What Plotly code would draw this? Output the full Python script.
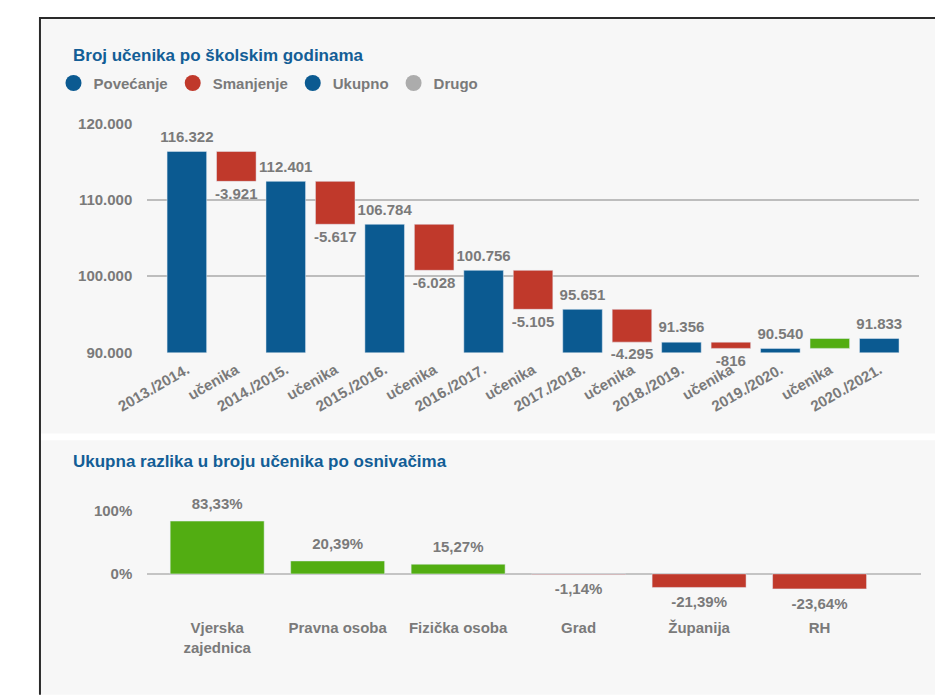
import plotly.graph_objects as go

# ---------------- data ----------------
years = ["2013./2014.", "2014./2015.", "2015./2016.", "2016./2017.",
         "2017./2018.", "2018./2019.", "2019./2020.", "2020./2021."]
totals = [116322, 112401, 106784, 100756, 95651, 91356, 90540, 91833]
changes = [-3921, -5617, -6028, -5105, -4295, -816, 1293]
change_label = "učenika"

y_ticks = [90000, 100000, 110000, 120000]
y_ticktext = ["90.000", "100.000", "110.000", "120.000"]

legend_names = ["Povećanje", "Smanjenje", "Ukupno", "Drugo"]

founders = ["Vjerska<br>zajednica", "Pravna osoba", "Fizička osoba", "Grad", "Županija", "RH"]
founder_pct = [83.33, 20.39, 15.27, -1.14, -21.39, -23.64]
pct_ticks = [0, 100]
pct_ticktext = ["0%", "100%"]

title_top = "Broj učenika po školskim godinama"
title_bottom = "Ukupna razlika u broju učenika po osnivačima"

# ---------------- styles ----------------
BLUE = "#0b5a91"
RED = "#c0392b"
GREEN = "#52ad12"
GREY_DOT = "#acacac"
TXT = "#7a7a7a"
TITLE = "#135e96"
FONT = "Liberation Sans, Arial, sans-serif"
OFF = 8                 # page body margin
W, H = 935, 688         # visible figure area


def fmt_int(v):
    return f"{v:,}".replace(",", ".")


def fmt_pct(v):
    return f"{v:.2f}".replace(".", ",") + "%"


def px_x(p):
    return (p - OFF) / W


def px_y(p):
    return 1 - (p - OFF) / H


x_tot = [2 * i for i in range(len(totals))]
x_chg = [2 * i + 1 for i in range(len(changes))]
tick_pos = list(range(2 * len(totals) - 1))
tick_txt = []
for i, yv in enumerate(years):
    tick_txt.append(yv)
    if i < len(changes):
        tick_txt.append(change_label)

bases = totals[:-1]
chg_colors = [RED if c < 0 else GREEN for c in changes]

lblfont = dict(family=FONT, size=15, color=TXT, weight="bold")

fig = go.Figure()

fig.add_trace(go.Bar(x=x_tot, y=totals, marker_color=BLUE, width=0.8,
                     showlegend=False, hoverinfo="skip", xaxis="x", yaxis="y"))
fig.add_trace(go.Bar(x=x_chg, y=changes, base=bases, marker_color=chg_colors, width=0.8,
                     showlegend=False, hoverinfo="skip", xaxis="x", yaxis="y"))
fig.add_trace(go.Scatter(x=x_tot, y=totals, mode="markers+text",
                         text=[fmt_int(v) for v in totals], textposition="top center",
                         marker=dict(size=8, color="rgba(0,0,0,0)"),
                         textfont=lblfont,
                         showlegend=False, hoverinfo="skip", cliponaxis=False,
                         xaxis="x", yaxis="y"))
ends = [b + c for b, c in zip(bases, changes)]
fig.add_trace(go.Scatter(x=x_chg, y=ends, mode="markers+text",
                         text=[fmt_int(c) if c < 0 else "" for c in changes],
                         textposition="bottom center",
                         marker=dict(size=8, color="rgba(0,0,0,0)"),
                         textfont=lblfont,
                         showlegend=False, hoverinfo="skip", cliponaxis=False,
                         xaxis="x", yaxis="y"))

for name, col in zip(legend_names, [BLUE, RED, BLUE, GREY_DOT]):
    fig.add_trace(go.Scatter(x=[None], y=[None], mode="markers", name=name,
                             marker=dict(symbol="circle", size=16, color=col),
                             xaxis="x", yaxis="y"))

fx = list(range(len(founders)))
fig.add_trace(go.Bar(x=fx, y=founder_pct, width=0.78,
                     marker_color=[GREEN if v >= 0 else RED for v in founder_pct],
                     showlegend=False, hoverinfo="skip", xaxis="x2", yaxis="y2"))
fig.add_trace(go.Scatter(x=fx, y=founder_pct,
                         mode="markers+text",
                         text=[fmt_pct(v) for v in founder_pct],
                         textposition=["top center" if v >= 0 else "bottom center" for v in founder_pct],
                         marker=dict(size=12, color="rgba(0,0,0,0)"),
                         textfont=lblfont,
                         showlegend=False, hoverinfo="skip", cliponaxis=False,
                         xaxis="x2", yaxis="y2"))

shapes = [
    dict(type="rect", xref="paper", yref="paper", x0=px_x(10), x1=1.01, y0=px_y(435), y1=px_y(10),
         fillcolor="#f7f7f7", line_width=0, layer="below"),
    dict(type="rect", xref="paper", yref="paper", x0=px_x(10), x1=1.01, y0=-0.01, y1=px_y(442),
         fillcolor="#f7f7f7", line_width=0, layer="below"),
    dict(type="line", xref="paper", yref="paper", x0=0, x1=1.01, y0=px_y(9), y1=px_y(9),
         line=dict(color="#2a2a2a", width=2), layer="below"),
    dict(type="line", xref="paper", yref="paper", x0=px_x(9), x1=px_x(9), y0=-0.01, y1=1,
         line=dict(color="#2a2a2a", width=2), layer="below"),
]

annotations = [
    dict(text=title_top, xref="paper", yref="paper", x=px_x(41), y=px_y(47),
         xanchor="left", yanchor="middle", showarrow=False,
         font=dict(family=FONT, size=17, color=TITLE, weight="bold")),
    dict(text=title_bottom, xref="paper", yref="paper", x=px_x(41), y=px_y(464),
         xanchor="left", yanchor="middle", showarrow=False,
         font=dict(family=FONT, size=17, color=TITLE, weight="bold")),
]

fig.update_layout(
    width=W, height=H, autosize=False,
    margin=dict(l=0, r=0, t=0, b=0),
    paper_bgcolor="white", plot_bgcolor="rgba(0,0,0,0)",
    barmode="overlay", bargap=0.2,
    shapes=shapes, annotations=annotations,
    showlegend=True,
    legend=dict(orientation="h", x=px_x(23), y=px_y(59), xanchor="left", yanchor="top",
                bgcolor="rgba(0,0,0,0)", font=lblfont),
    xaxis=dict(domain=[px_x(120), px_x(918)], range=[-0.8, 14.8], anchor="y",
               tickmode="array", tickvals=tick_pos, ticktext=tick_txt, tickangle=-30,
               showgrid=False, zeroline=False, showline=False, tickfont=lblfont,
               ticklabelstandoff=5, fixedrange=True),
    yaxis=dict(domain=[px_y(352), px_y(117)], range=[90000, 120000], anchor="x",
               tickmode="array", tickvals=y_ticks, ticktext=y_ticktext,
               showgrid=True, gridcolor="#bdbdbd", gridwidth=1.5, zeroline=False,
               ticklabelstandoff=14, tickfont=lblfont, fixedrange=True),
    xaxis2=dict(domain=[px_x(120), px_x(920)], range=[-0.58, 5.84], anchor="y2",
                tickmode="array", tickvals=fx, ticktext=founders, tickangle=0,
                showgrid=False, zeroline=False, showline=False, tickfont=lblfont,
                ticklabelstandoff=18, fixedrange=True),
    yaxis2=dict(domain=[px_y(605), px_y(514)], range=[-40, 100], anchor="x2",
                tickmode="array", tickvals=pct_ticks, ticktext=pct_ticktext,
                showgrid=True, gridcolor="#bdbdbd", gridwidth=1.5,
                zeroline=True, zerolinecolor="#c4c4c4", zerolinewidth=1.5,
                layer="above traces",
                ticklabelstandoff=14, tickfont=lblfont, fixedrange=True),
)

fig.write_html("out.html", config={"displayModeBar": False})
